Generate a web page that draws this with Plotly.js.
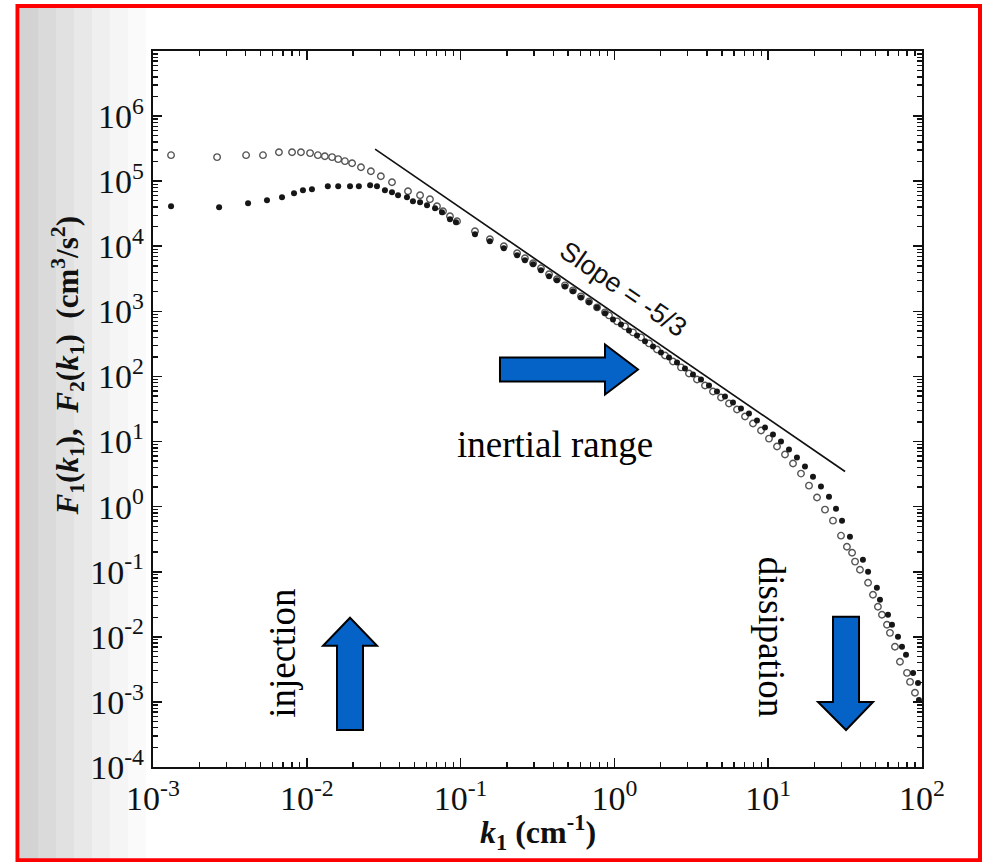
<!DOCTYPE html>
<html><head><meta charset="utf-8">
<script src="https://cdn.plot.ly/plotly-3.0.1.min.js"></script>
<style>html,body{margin:0;padding:0;background:#fff}#chart{width:982px;height:862px}</style>
</head><body><div id="chart"></div>
<script>
// F1 (open circles): low-k segment, inertial band, dissipation
const kF1 = [0.00131,0.00261,0.00403,0.00519,0.00659,0.00802,0.00916,0.0105,0.0118,0.0131,0.0146,0.0160,0.0177,0.0197,0.0225,0.0261,0.0303,0.0358,0.0455,0.0545,0.0632,0.0702,0.0768,0.0853,0.0948,
  0.124,0.155,0.191,0.233,0.262,0.296,0.333,0.376,0.423,0.477,0.538,0.606,0.684,0.771,0.869,
  0.922,1.040,1.172,1.321,1.489,1.679,1.892,2.133,2.404,2.710,3.055,3.444,3.882,4.376,4.933,5.560,6.268,7.067,7.965,8.979,10.12,11.41,12.86,14.50,16.34,18.42,20.77,23.41,26.38,29.74,
  32.5,35.1,36.7,39.5,44.6,48.0,51.7,54.9,59.2,61.9,66.7,71.9,79.9,83.6,90.0];
const F1 = [2.51e5,2.34e5,2.51e5,2.51e5,2.79e5,2.79e5,2.79e5,2.70e5,2.51e5,2.42e5,2.34e5,2.18e5,2.03e5,1.89e5,1.64e5,1.42e5,1.19e5,9.65e4,7.02e4,6.09e4,5.29e4,4.13e4,3.46e4,2.89e4,2.42e4,
  1.70e4,1.28e4,1.00e4,7.80e3,6.54e3,5.48e3,4.59e3,3.71e3,3.11e3,2.51e3,2.10e3,1.70e3,1.42e3,1.15e3,965,
  868,702,588,475,398,322,260,210,170,138,111,89.9,72.7,58.8,47.5,38.4,31.1,24.2,18.9,14.8,11.1,8.38,6.31,4.59,3.22,2.10,1.38,0.899,0.609,0.358,
  0.242,0.196,0.143,0.107,0.0677,0.0443,0.0289,0.0218,0.0153,0.0115,0.00702,0.00413,0.00279,0.00203,0.00138];

// F2 (filled dots)
const kF2 = [0.00131,0.00269,0.00415,0.00551,0.00690,0.00826,0.00944,0.0108,0.0137,0.0160,0.0191,0.0218,0.0258,0.0286,0.0322,0.0358,0.0392,0.0448,0.0490,0.0545,0.0605,0.0682,0.0757,0.0853,0.0933,
  0.124,0.155,0.191,0.233,0.262,0.296,0.333,0.376,0.423,0.477,0.538,0.606,0.684,0.771,0.869,0.979,1.104,1.244,1.403,1.581,1.782,2.009,2.265,2.553,2.877,3.243,3.656,4.121,4.645,5.236,5.902,6.653,7.499,8.453,9.528,10.74,12.11,13.65,15.38,17.34,19.55,22.03,24.84,27.59,30.20,
  34.0,41.3,44.6,50.9,53.3,60.1,63.8,69.8,74.1,78.7,87.5,94.2,95.5];
const F2 = [4.13e4,3.98e4,4.59e4,5.10e4,5.67e4,6.54e4,7.27e4,7.53e4,8.38e4,8.38e4,8.38e4,8.38e4,8.68e4,8.38e4,7.27e4,6.77e4,6.09e4,5.67e4,4.92e4,4.75e4,4.27e4,3.84e4,3.34e4,2.60e4,2.34e4,
  1.53e4,1.19e4,9.32e3,7.27e3,6.09e3,5.29e3,4.27e3,3.46e3,3.00e3,2.42e3,2.03e3,1.64e3,1.38e3,1.15e3,932,753,631,510,427,346,289,234,196,164,133,107,89.9,72.7,58.8,49.2,39.8,32.2,27.0,21.0,16.4,12.8,10.0,7.53,5.67,4.13,2.89,2.03,1.42,0.931,0.609,
  0.346,0.153,0.100,0.0567,0.0371,0.0218,0.0153,0.0100,0.00702,0.00528,0.00279,0.00196,0.00107];

// reference line, slope -5/3
const slopeK = [0.0278, 31.6];
const slopeF = [3.11e5, 3.46];

const xTickVals = [0.001, 0.01, 0.1, 1, 10, 100];
const xTickText = ['10<sup>-3</sup>','10<sup>-2</sup>','10<sup>-1</sup>','10<sup>0</sup>','10<sup>1</sup>','10<sup>2</sup>'];
const yTickVals = [1e-4,1e-3,1e-2,1e-1,1,10,100,1e3,1e4,1e5,1e6];
const yTickText = ['10<sup>-4</sup>','10<sup>-3</sup>','10<sup>-2</sup>','10<sup>-1</sup>','10<sup>0</sup>','10<sup>1</sup>','10<sup>2</sup>','10<sup>3</sup>','10<sup>4</sup>','10<sup>5</sup>','10<sup>6</sup>'];

const serif = 'Liberation Serif, Times New Roman, serif';
const ink = '#111111';

const traces = [
  {x: slopeK, y: slopeF, mode: 'lines', line: {color: ink, width: 1.7}, name: 'Slope -5/3', hoverinfo: 'skip'},
  {x: kF1, y: F1, mode: 'markers', name: 'F1', marker: {symbol: 'circle-open', size: 6.5, color: '#555555', line: {width: 1.4}}},
  {x: kF2, y: F2, mode: 'markers', name: 'F2', marker: {symbol: 'circle', size: 6, color: '#161616'}}
];

function axisCommon() {
  return {
    type: 'log', showgrid: false, zeroline: false, tickmode: 'array',
    ticks: 'inside', ticklen: 9, tickwidth: 1.6, tickcolor: ink,
    minor: {ticks: 'inside', ticklen: 5, tickwidth: 1.3, tickcolor: ink, dtick: 'D1', showgrid: false},
    showline: true, linecolor: ink, linewidth: 2.2, mirror: 'allticks',
    tickfont: {family: serif, size: 34, color: ink}
  };
}

const xaxis = Object.assign(axisCommon(), {
  range: [-3, 2], tickvals: xTickVals, ticktext: xTickText
});
const yaxis = Object.assign(axisCommon(), {
  range: [-4, 7], tickvals: yTickVals, ticktext: yTickText
});

function px(x) { return (x - 153) / 769; }
function py(y) { return (767 - y) / 715; }
function pathOf(pts) {
  return 'M ' + pts.map(p => px(p[0]).toFixed(4) + ',' + py(p[1]).toFixed(4)).join(' L ') + ' Z';
}

const blue = '#0563c8';
const shapes = [];
const grays = ['#d3d3d3','#dadada','#e1e1e1','#e8e8e8','#efefef','#f5f5f5','#fafafa'];
const edges = [20, 38, 56, 74, 92, 110, 128, 146];
for (let i = 0; i < grays.length; i++) {
  shapes.push({type: 'rect', xref: 'paper', yref: 'paper', x0: px(edges[i]), x1: px(edges[i+1]), y0: py(860), y1: py(7), fillcolor: grays[i], line: {width: 0}, layer: 'below'});
}
shapes.push({type: 'path', xref: 'paper', yref: 'paper', layer: 'above', fillcolor: blue, line: {color: '#000', width: 2},
  path: pathOf([[500,358],[605,358],[605,345],[638,370],[605,395],[605,382],[500,382]])});
shapes.push({type: 'path', xref: 'paper', yref: 'paper', layer: 'above', fillcolor: blue, line: {color: '#000', width: 2},
  path: pathOf([[337,730],[337,646],[323,646],[350,618],[377,646],[363,646],[363,730]])});
shapes.push({type: 'path', xref: 'paper', yref: 'paper', layer: 'above', fillcolor: blue, line: {color: '#000', width: 2},
  path: pathOf([[833,617],[859,617],[859,702],[873,702],[846,730],[818,702],[833,702]])});
shapes.push({type: 'rect', xref: 'paper', yref: 'paper', x0: px(17.5), x1: px(980), y0: py(860), y1: py(7), line: {color: '#ff0000', width: 4}, layer: 'above'});

const annotations = [
  {xref: 'paper', yref: 'paper', x: px(538), y: py(832), showarrow: false, xanchor: 'center', yanchor: 'middle',
   text: '<b><i>k</i><sub>1</sub> (cm<sup>-1</sup>)</b>', font: {family: serif, size: 32, color: ink}},
  {xref: 'paper', yref: 'paper', x: px(68), y: py(367), textangle: -90, showarrow: false, xanchor: 'center', yanchor: 'middle',
   text: '<b><i>F</i><sub>1</sub>(<i>k</i><sub>1</sub>),  <i>F</i><sub>2</sub>(<i>k</i><sub>1</sub>)  (cm<sup>3</sup>/s<sup>2</sup>)</b>',
   font: {family: serif, size: 31, color: ink}},
  {xref: 'paper', yref: 'paper', x: px(623), y: py(290), textangle: 34.4, showarrow: false, xanchor: 'center', yanchor: 'middle',
   text: 'Slope = -5/3', font: {family: 'Liberation Sans, Arial, sans-serif', size: 27, color: ink}},
  {xref: 'paper', yref: 'paper', x: px(555), y: py(445), showarrow: false, xanchor: 'center', yanchor: 'middle',
   text: 'inertial range', font: {family: serif, size: 37, color: '#000'}},
  {xref: 'paper', yref: 'paper', x: px(283), y: py(654), textangle: -90, showarrow: false, xanchor: 'center', yanchor: 'middle',
   text: 'injection', font: {family: serif, size: 37, color: '#000'}},
  {xref: 'paper', yref: 'paper', x: px(771), y: py(637), textangle: 90, showarrow: false, xanchor: 'center', yanchor: 'middle',
   text: 'dissipation', font: {family: serif, size: 37, color: '#000'}}
];

const layout = {
  width: 982, height: 862,
  margin: {l: 153, r: 60, t: 51, b: 95},
  paper_bgcolor: '#ffffff', plot_bgcolor: '#ffffff',
  showlegend: false,
  xaxis: xaxis, yaxis: yaxis,
  shapes: shapes, annotations: annotations
};

Plotly.newPlot('chart', traces, layout, {displayModeBar: false, staticPlot: true});
</script>
</body></html>
